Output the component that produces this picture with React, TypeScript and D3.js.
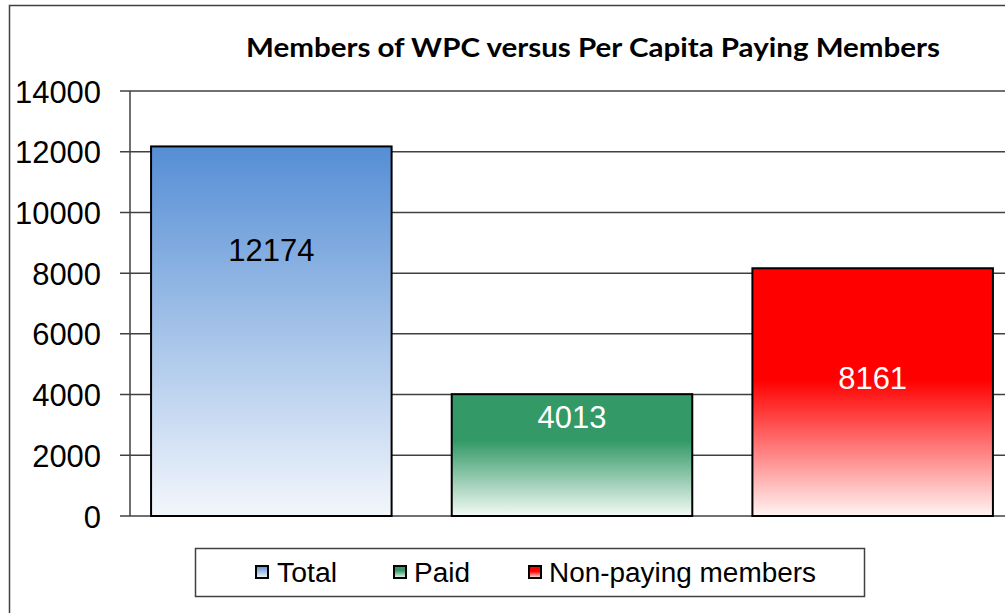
import React from "react";
import * as d3 from "d3";

const categories = ["Total", "Paid", "Non-paying members"];
const values = [12174, 4013, 8161];
const yTicks = [0, 2000, 4000, 6000, 8000, 10000, 12000, 14000];
const title = "Members of WPC versus Per Capita Paying Members";

const W = 1005;
const H = 613;

export default function App() {
  const y = d3.scaleLinear().domain([0, 14000]).range([516, 91]);
  const x = d3.scaleBand<string>().domain(categories).range([121, 1023]).paddingInner(0.2).paddingOuter(0.1);
  const colors = [
    { stops: [[0, "#558ED5"], [1, "#F3F7FC"]] },
    { stops: [[0, "#339966"], [0.38, "#339966"], [1, "#F4FAF6"]] },
    { stops: [[0, "#FF0000"], [0.45, "#FF0000"], [1, "#FFF4F4"]] },
  ];
  const labelFrac = [0.28, 0.18, 0.44];
  const labelColor = ["#000", "#fff", "#fff"];
  const axisX = 130;
  const legendItems = [
    { sx: 256, tx: 277, w: 60 },
    { sx: 394, tx: 414, w: 56 },
    { sx: 529, tx: 549, w: 267 },
  ];
  const digitW = 17.2;
  return (
    <svg width={W} height={H} style={{ position: "absolute", left: 0, top: 0, background: "#fff" }}
      fontFamily="Liberation Sans, Arial, sans-serif">
      <defs>
        {colors.map((c, i) => (
          <linearGradient key={i} id={"g" + i} x1="0" y1="0" x2="0" y2="1">
            {c.stops.map((s, j) => (
              <stop key={j} offset={s[0] as number} stopColor={s[1] as string} />
            ))}
          </linearGradient>
        ))}
      </defs>
      <rect x={9.5} y={5.5} width={1010} height={620} fill="#fff" stroke="#404040" strokeWidth={1.5} />
      <text x={593} y={57} textAnchor="middle" fontFamily="Lato, sans-serif" fontWeight="bold" fontSize={26}
        textLength={694} lengthAdjust="spacingAndGlyphs" fill="#000">{title}</text>
      {yTicks.map((t) => (
        <g key={t}>
          <line x1={120} x2={1005} y1={y(t)} y2={y(t)} stroke="#404040" strokeWidth={1.5} />
          <text x={101} y={y(t)} dy="0.36em" textAnchor="end" fontSize={32} fill="#000"
            textLength={String(t).length * digitW} lengthAdjust="spacingAndGlyphs">{t}</text>
        </g>
      ))}
      <line x1={axisX} x2={axisX} y1={y(14000)} y2={y(0)} stroke="#404040" strokeWidth={1.5} />
      {categories.map((c, i) => {
        const bx = x(c)!;
        const bw = x.bandwidth();
        const top = y(values[i]);
        const h = y(0) - top;
        return (
          <g key={c}>
            <rect x={bx} y={top} width={bw} height={h} fill={`url(#g${i})`} stroke="#000" strokeWidth={2} />
            <text x={bx + bw / 2} y={top + h * labelFrac[i]} dy="0.36em" textAnchor="middle" fontSize={32}
              fill={labelColor[i]} textLength={String(values[i]).length * digitW} lengthAdjust="spacingAndGlyphs">{values[i]}</text>
          </g>
        );
      })}
      <rect x={195.5} y={548.5} width={669} height={48} fill="#fff" stroke="#404040" strokeWidth={1.5} />
      {categories.map((c, i) => (
        <g key={c}>
          <rect x={legendItems[i].sx} y={566} width={12} height={12} fill={`url(#g${i})`} stroke="#000" strokeWidth={2} />
          <text x={legendItems[i].tx} y={572} dy="0.36em" fontSize={27} fill="#000"
            textLength={legendItems[i].w} lengthAdjust="spacingAndGlyphs">{c}</text>
        </g>
      ))}
    </svg>
  );
}
